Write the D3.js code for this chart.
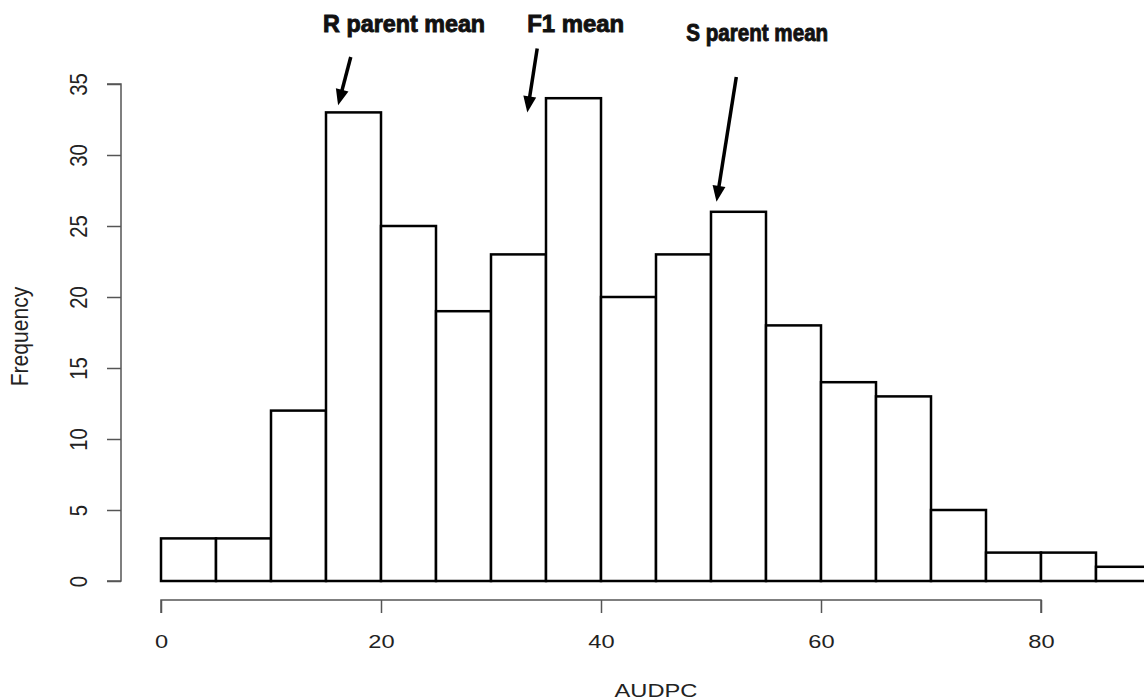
<!DOCTYPE html>
<html>
<head>
<meta charset="utf-8">
<script src="https://cdn.jsdelivr.net/npm/d3@7"></script>
<style>
  body { margin: 0; background: #fff; }
  svg { display: block; font-family: "Liberation Sans", Arial, sans-serif; }
</style>
</head>
<body>
<svg id="chart" width="1144" height="700"></svg>
<script>
// histogram bins (AUDPC, width 5) and counts
const binStarts = [0, 5, 10, 15, 20, 25, 30, 35, 40, 45, 50, 55, 60, 65, 70, 75, 80, 85];
const counts = [3, 3, 12, 33, 25, 19, 23, 34, 20, 23, 26, 18, 14, 13, 5, 2, 2, 1];
const binWidth = 5;
const xTicks = [0, 20, 40, 60, 80];
const yTicks = [0, 5, 10, 15, 20, 25, 30, 35];

// annotations, in data units
const noteLabels = ["R parent mean", "F1 mean", "S parent mean"];
const noteLabelX = [22.1, 37.7, 54.2];
const noteLabelY = [38.68, 38.68, 38.0];
const noteWidths = [162, 97, 142];
const arrowFromX = [17.25, 34.2, 52.3];
const arrowFromY = [36.9, 37.5, 35.5];
const arrowToX = [16.1, 33.3, 50.5];
const arrowToY = [33.5, 33.0, 26.7];

const data = binStarts.map((b, i) => ({ x0: b, x1: b + binWidth, n: counts[i] }));
const notes = noteLabels.map((t, i) => ({
  text: t, lx: noteLabelX[i], ly: noteLabelY[i], w: noteWidths[i],
  x1: arrowFromX[i], y1: arrowFromY[i], x2: arrowToX[i], y2: arrowToY[i]
}));

const svg = d3.select("#chart");
const stretch = 1.28; // the picture is a little wider than tall

const x = d3.scaleLinear().domain([0, 80]).range([161, 1041]);
const y = d3.scaleLinear().domain([0, 35]).range([581, 84]);

// bars
svg.append("g")
  .selectAll("rect")
  .data(data)
  .join("rect")
  .attr("x", (d) => x(d.x0))
  .attr("y", (d) => y(d.n))
  .attr("width", (d) => x(d.x1) - x(d.x0))
  .attr("height", (d) => y(0) - y(d.n))
  .attr("fill", "#fff")
  .attr("stroke", "#000")
  .attr("stroke-width", 2.5);

// x axis
const xAxis = d3.axisBottom(x).tickValues(xTicks).tickSize(13).tickPadding(22);
const gx = svg.append("g")
  .attr("transform", "translate(0,600)")
  .call(xAxis);
gx.select(".domain").attr("stroke", "#555").attr("stroke-width", 1.5)
  .attr("d", `M${x(0)},13V0H${x(80)}V13`);
gx.selectAll(".tick line").attr("stroke", "#555").attr("stroke-width", 1.5);
gx.selectAll(".tick text")
  .attr("font-size", 18.5)
  .attr("fill", "#222")
  .attr("font-family", "'Liberation Sans', Arial, sans-serif")
  .attr("transform", `scale(${stretch},1)`);

// y axis, rotated labels like R
const yAxis = d3.axisLeft(y).tickValues(yTicks).tickSize(14);
const gy = svg.append("g")
  .attr("transform", "translate(121,0)")
  .call(yAxis);
gy.select(".domain").attr("stroke", "#555").attr("stroke-width", 1.5)
  .attr("d", `M-14,${y(0)}H0V${y(35)}H-14`);
gy.selectAll(".tick line").attr("stroke", "#555").attr("stroke-width", 1.5);
gy.selectAll(".tick text")
  .attr("font-size", 18.5)
  .attr("fill", "#222")
  .attr("font-family", "'Liberation Sans', Arial, sans-serif")
  .attr("text-anchor", "middle")
  .attr("transform", `rotate(-90) scale(1.1,${stretch})`)
  .attr("x", 0)
  .attr("y", -34 / stretch)
  .attr("dy", null);

// axis titles
svg.append("text")
  .attr("transform", `translate(656,697) scale(${stretch},1)`)
  .attr("text-anchor", "middle")
  .attr("font-size", 18.5)
  .attr("fill", "#222")
  .text("AUDPC");

svg.append("text")
  .attr("transform", `translate(28,${(y(0) + y(35)) / 2 + 4}) rotate(-90) scale(1.14,${stretch})`)
  .attr("text-anchor", "middle")
  .attr("font-size", 18.5)
  .attr("fill", "#222")
  .text("Frequency");

// annotation labels
svg.append("g")
  .selectAll("text")
  .data(notes)
  .join("text")
  .attr("x", (d) => x(d.lx))
  .attr("y", (d) => y(d.ly))
  .attr("text-anchor", "middle")
  .attr("font-size", 23)
  .attr("font-weight", "bold")
  .attr("fill", "#111")
  .attr("stroke", "#111")
  .attr("stroke-width", 0.9)
  .attr("textLength", (d) => d.w)
  .attr("lengthAdjust", "spacingAndGlyphs")
  .text((d) => d.text);

// arrows
const headLen = 16, headHalf = 6.5;
const arrows = svg.append("g");
notes.forEach((d) => {
  const ax = x(d.x1), ay = y(d.y1), bx = x(d.x2), by = y(d.y2);
  const len = Math.hypot(bx - ax, by - ay);
  const ux = (bx - ax) / len, uy = (by - ay) / len;
  const baseX = bx - ux * headLen, baseY = by - uy * headLen;
  arrows.append("line")
    .attr("x1", ax).attr("y1", ay)
    .attr("x2", baseX + ux * 2).attr("y2", baseY + uy * 2)
    .attr("stroke", "#000")
    .attr("stroke-width", 3.5);
  arrows.append("path")
    .attr("d", `M${bx},${by}L${baseX - uy * headHalf},${baseY + ux * headHalf}L${baseX + uy * headHalf},${baseY - ux * headHalf}Z`)
    .attr("fill", "#000");
});
</script>
</body>
</html>
